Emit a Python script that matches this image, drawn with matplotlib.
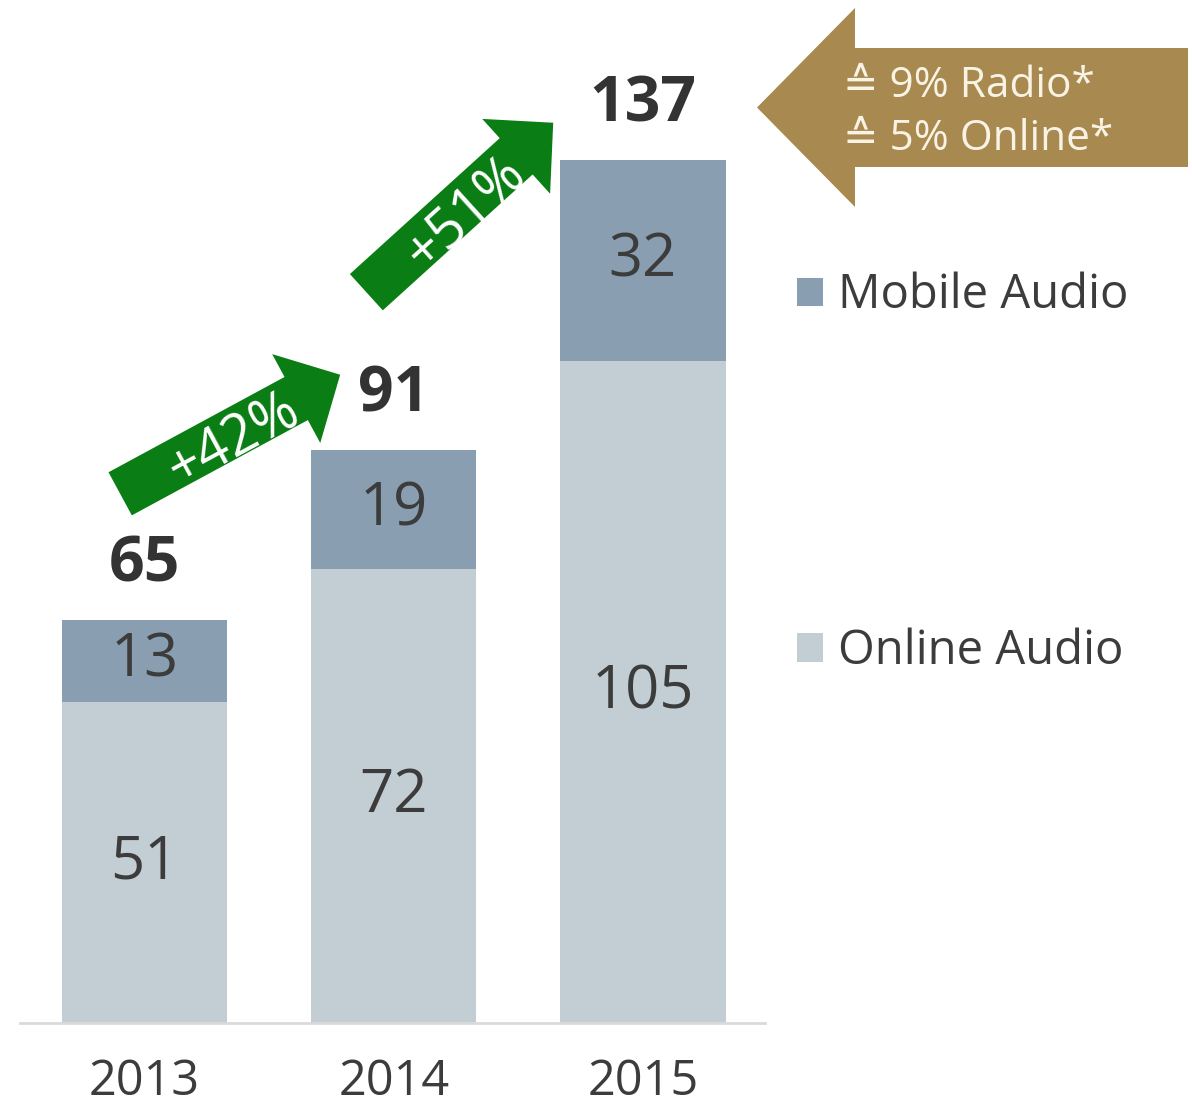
import math
import matplotlib
matplotlib.use("Agg")
import matplotlib.pyplot as plt
from matplotlib.patches import FancyArrowPatch

# data
years = ["2013", "2014", "2015"]
online = [51, 72, 105]
mobile = [13, 19, 32]
totals = [65, 91, 137]
growth = ["+42%", "+51%"]
share_lines = ["\u2259 9% Radio*", "\u2259 5% Online*"]

c_online = "#c3cdd4"
c_mobile = "#899fb1"
c_green = "#0a7e14"
c_gold = "#a8894f"
c_text = "#3c3c3c"

plt.rcParams["font.family"] = ["Open Sans", "DejaVu Sans"]

W, H = 1192, 1109
pt = 72 / 100  # px -> pt

fig = plt.figure(figsize=(W / 100, H / 100), dpi=100)
ax = fig.add_axes([20 / W, (H - 1023) / H, 745 / W, 1023 / H])

x = list(range(len(years)))
b_on = ax.bar(x, online, width=0.663, color=c_online, label="Online Audio")
b_mob = ax.bar(x, mobile, bottom=online, width=0.663, color=c_mobile, label="Mobile Audio")
ax.set_xlim(-0.5, 2.49)
ax.set_ylim(0, 1023 / 6.3)

ax.bar_label(b_on, label_type="center", fontsize=43, color=c_text)
ax.bar_label(b_mob, label_type="center", fontsize=43, color=c_text)
ax.bar_label(b_mob, labels=[str(t) for t in totals], padding=17, fontsize=45,
             fontweight="bold", color="#333333")

ax.set_xticks(x, years)
ax.tick_params(axis="x", length=0, pad=25, labelsize=35, labelcolor=c_text)
ax.set_yticks([])
for s in ["left", "top", "right"]:
    ax.spines[s].set_visible(False)
ax.spines["bottom"].set_color("#dadada")
ax.spines["bottom"].set_linewidth(2)

# growth arrows (tail, tip, label position)
arrows = [((-0.098, 84.0), (0.785, 102.9), (0.36, 92.3)),
          ((0.890, 116.0), (1.640, 142.9), (1.29, 128.4))]
for (tail, tip, lpos), txt in zip(arrows, growth):
    a = FancyArrowPatch(tail, tip,
                        arrowstyle=f"simple,head_length={50*pt},head_width={101*pt},tail_width={49*pt}",
                        mutation_scale=1, shrinkA=0, shrinkB=0, color=c_green, lw=0,
                        clip_on=False)
    ax.add_patch(a)
    p = ax.transData.transform([tail, tip])
    ang = math.degrees(math.atan2(p[1][1] - p[0][1], p[1][0] - p[0][0]))
    ax.text(lpos[0], lpos[1], txt, rotation=ang, rotation_mode="anchor",
            ha="center", va="center", fontsize=40, color="white")

# gold arrow
g = FancyArrowPatch((1188 / W, 1 - 107.5 / H), (757 / W, 1 - 107.5 / H),
                    transform=fig.transFigure,
                    arrowstyle=f"simple,head_length={98*pt},head_width={199*pt},tail_width={119*pt}",
                    mutation_scale=1, shrinkA=0, shrinkB=0, color=c_gold, lw=0)
fig.add_artist(g)
fig.text(843 / W, 1 - 97 / H, share_lines[0], fontsize=30.5, color="#f8f3e4",
         ha="left", va="baseline")
fig.text(843 / W, 1 - 150 / H, share_lines[1], fontsize=30.5, color="#f8f3e4",
         ha="left", va="baseline")

ax.legend(handles=[b_mob, b_on], labels=["Mobile Audio", "Online Audio"],
          loc="upper left", bbox_to_anchor=(797 / W, 1 - 272 / H),
          bbox_transform=fig.transFigure, frameon=False, fontsize=34,
          labelcolor=c_text, borderpad=0, borderaxespad=0,
          handlelength=0.553, handleheight=0.553, handletextpad=0.32,
          labelspacing=6.53)

fig.savefig("out.png", dpi=100)
